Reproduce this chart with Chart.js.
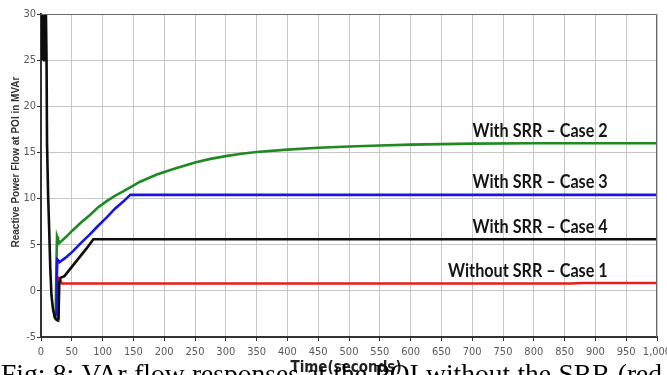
<!DOCTYPE html>
<html>
<head>
<meta charset="utf-8">
<title>VAr flow at POI</title>
<script src="https://cdn.jsdelivr.net/npm/chart.js@4.4.1/dist/chart.umd.min.js"></script>
<style>
  html, body { margin: 0; padding: 0; background: #fff; overflow: hidden; }
  canvas { display: block; }
</style>
</head>
<body>
<canvas id="chart" width="667" height="375"></canvas>
<script>
// ---- data (time in seconds, reactive power in MVAr) ----
// start-up transient shared by all cases (drawn with Case 4)
const transientTime  = [0, 1, 2, 3, 4, 5, 6, 7, 8, 9, 9.8, 11.5, 13.4, 15, 17, 19.5, 22.5, 25, 27];
const transientMvar  = [30, 25, 30, 25.5, 30, 25, 30, 25.5, 30, 25, 16, 10.5, 6.4, 2.6, -0.5, -2.0, -2.9, -3.1, -3.2];

const case4Time = [28.5, 29.5, 31.5, 38, 50, 62, 74, 85, 1000];
const case4Mvar = [-3.0, 0.8, 1.4, 1.6, 2.6, 3.6, 4.6, 5.6, 5.6];

const case1Time = [22.5, 25, 28, 29.5, 31, 34, 860, 880, 1000];
const case1Mvar = [-2.9, -3.1, -3.2, 1.3, 1.2, 0.8, 0.8, 0.85, 0.85];

const case3Time = [22.5, 24.5, 25.5, 26.5, 28, 30, 40, 52, 65, 79, 92, 106, 120, 134, 145, 1000];
const case3Mvar = [-2.9, -2.5, 1.0, 3.4, 3.3, 3.1, 3.6, 4.3, 5.2, 6.1, 7.0, 7.9, 8.9, 9.7, 10.4, 10.4];

const case2Time = [22.5, 24, 25, 26, 27.5, 30, 40, 52, 65, 79, 92, 106, 120, 134, 147, 160, 188, 215, 250, 275, 300, 325, 350, 400, 450, 500, 550, 600, 700, 800, 1000];
const case2Mvar = [-2.9, -2.0, 3.0, 5.9, 5.6, 5.2, 5.8, 6.6, 7.4, 8.2, 9.0, 9.7, 10.3, 10.8, 11.3, 11.8, 12.6, 13.2, 13.9, 14.3, 14.6, 14.85, 15.05, 15.3, 15.5, 15.65, 15.75, 15.85, 15.95, 16.0, 16.0];

const seriesNames  = ['With SRR \u2013 Case 4', 'Without SRR \u2013 Case 1', 'With SRR \u2013 Case 3', 'With SRR \u2013 Case 2'];
const seriesColors = ['#0d0d0d', '#e81c1c', '#1616dc', '#1f8a22'];

// axis ranges and tick steps
const timeRange = [0, 1000];
const timeStep = 50;
const mvarRange = [-5, 30];
const mvarStep = 5;

// where the case captions sit along the time axis (right edge of text)
const captionTime = 920;

const axisTitleY = 'Reactive Power Flow at POI in MVAr';
const axisTitleX = 'Time(seconds)';
const figCaption = 'Fig: 8: VAr flow responses at the POI without the SRR (red';

// ---- helpers ----
const toPoints = (ts, vs) => ts.map((t, i) => ({ x: t, y: vs[i] }));
const seriesData = [
  toPoints(transientTime.concat(case4Time), transientMvar.concat(case4Mvar)),
  toPoints(case1Time, case1Mvar),
  toPoints(case3Time, case3Mvar),
  toPoints(case2Time, case2Mvar)
];
const lastValue = arr => arr[arr.length - 1].y;

const NARROW = '"Liberation Sans Narrow", "DejaVu Sans Condensed", "Liberation Sans", sans-serif';

// keep the plot box fixed regardless of how wide the edge tick labels are
const noEdgePadding = s => { s.paddingLeft = 0; s.paddingRight = 0; s.paddingTop = 0; s.paddingBottom = 0; };

// texts drawn on top of the plot: frame, case captions, axis titles, figure caption
const annotations = {
  id: 'annotations',
  afterDraw(chart) {
    const { ctx, chartArea: a, scales } = chart;
    const xs = scales.x, ys = scales.y;
    ctx.save();

    // upper and right frame lines
    ctx.strokeStyle = '#6a6a6a';
    ctx.lineWidth = 1;
    ctx.beginPath();
    ctx.moveTo(a.left, a.top + 0.5);
    ctx.lineTo(a.right - 0.5, a.top + 0.5);
    ctx.lineTo(a.right - 0.5, a.bottom);
    ctx.stroke();

    // case captions above their steady-state lines
    ctx.fillStyle = '#151515';
    ctx.font = '700 18px Lato, "Open Sans", sans-serif';
    ctx.textAlign = 'right';
    ctx.textBaseline = 'alphabetic';
    seriesNames.forEach((name, i) => {
      const px = xs.getPixelForValue(captionTime);
      const py = ys.getPixelForValue(lastValue(seriesData[i])) - 6.5;
      ctx.save();
      ctx.translate(px, py);
      ctx.scale(0.9, 1);
      ctx.fillText(name, 0, 0);
      ctx.restore();
    });

    // y axis title
    ctx.save();
    ctx.translate(16.7, 162);
    ctx.rotate(-Math.PI / 2);
    ctx.textAlign = 'center';
    ctx.textBaseline = 'middle';
    ctx.fillStyle = '#333';
    ctx.font = 'bold 10px "Liberation Sans", Arial, sans-serif';
    ctx.fillText(axisTitleY, 0, 0);
    ctx.restore();

    // x axis title
    ctx.textAlign = 'center';
    ctx.textBaseline = 'alphabetic';
    ctx.fillStyle = '#222';
    ctx.font = 'bold 15px ' + NARROW;
    ctx.fillText(axisTitleX, 346, 372);

    // figure caption, justified across the page width
    ctx.fillStyle = '#000';
    ctx.font = '27.5px "Liberation Serif", "Times New Roman", serif';
    ctx.textAlign = 'left';
    const words = figCaption.split(' ');
    const x0 = 1, x1 = 662;
    const natural = words.reduce((s, w) => s + ctx.measureText(w).width, 0);
    const gap = (x1 - x0 - natural) / (words.length - 1);
    let cx = x0;
    words.forEach(w => {
      ctx.fillText(w, cx, 382.5);
      cx += ctx.measureText(w).width + gap;
    });

    ctx.restore();
  }
};

new Chart(document.getElementById('chart'), {
  type: 'line',
  data: {
    datasets: seriesData.map((pts, i) => ({
      label: seriesNames[i],
      data: pts,
      borderColor: seriesColors[i],
      backgroundColor: seriesColors[i],
      borderWidth: 2.6,
      pointRadius: 0,
      tension: 0,
      fill: false
    }))
  },
  options: {
    responsive: false,
    devicePixelRatio: 1,
    animation: false,
    events: [],
    layout: { autoPadding: false, padding: { left: 0, right: 10, top: 14, bottom: 0 } },
    plugins: { legend: { display: false }, tooltip: { enabled: false }, title: { display: false } },
    scales: {
      x: {
        type: 'linear',
        min: timeRange[0],
        max: timeRange[1],
        afterFit: s => { s.height = 38; noEdgePadding(s); },
        ticks: { stepSize: timeStep, color: '#5a5a5a', font: { family: NARROW, size: 11 }, padding: 5, maxRotation: 0, autoSkip: false },
        grid: { color: '#c6c6c6', lineWidth: 1, tickColor: '#333', tickLength: 4 },
        border: { display: true, color: '#333', width: 2 }
      },
      y: {
        type: 'linear',
        min: mvarRange[0],
        max: mvarRange[1],
        afterFit: s => { s.width = 41; noEdgePadding(s); },
        ticks: { stepSize: mvarStep, color: '#5a5a5a', font: { family: NARROW, size: 11 }, padding: 1 },
        grid: { color: '#c6c6c6', lineWidth: 1, tickColor: '#333', tickLength: 4 },
        border: { display: true, color: '#333', width: 2 }
      }
    }
  },
  plugins: [annotations]
});
</script>
</body>
</html>
